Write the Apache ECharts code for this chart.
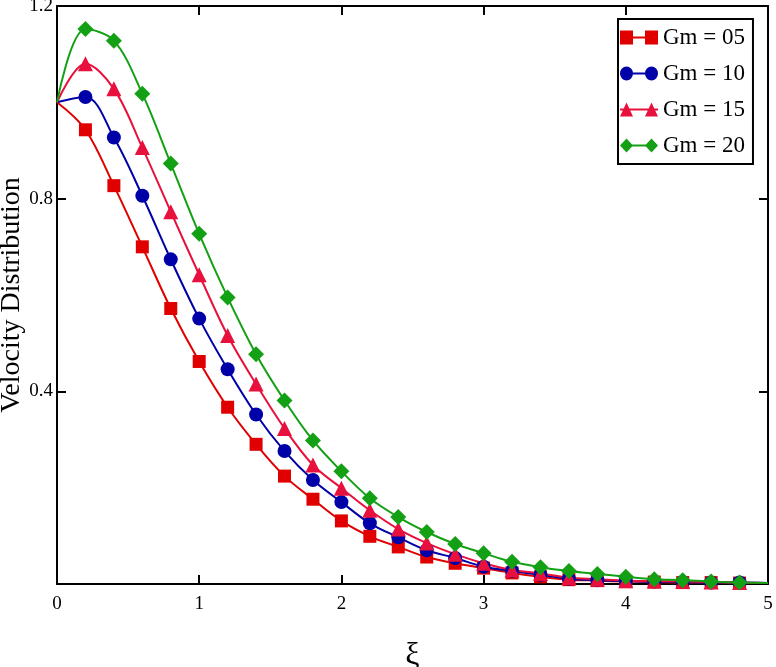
<!DOCTYPE html>
<html>
<head>
<meta charset="utf-8">
<script src="https://cdn.jsdelivr.net/npm/echarts@6/dist/echarts.min.js"></script>
<style>
  html, body { margin: 0; padding: 0; background: #fff; }
  #chart { width: 776px; height: 667px; }
</style>
</head>
<body>
<div id="chart"></div>
<script>
const xs = [0, 0.2, 0.4, 0.6, 0.8, 1.0, 1.2, 1.4, 1.6, 1.8, 2.0, 2.2, 2.4, 2.6, 2.8, 3.0,
  3.2, 3.4, 3.6, 3.8, 4.0, 4.2, 4.4, 4.6, 4.8, 5.0];
const gm05 = [1.0, 0.943, 0.827, 0.700, 0.572, 0.462, 0.367, 0.290, 0.224, 0.176, 0.131, 0.099, 0.077,
  0.056, 0.043, 0.033, 0.023, 0.015, 0.009, 0.007, 0.005, 0.004, 0.003, 0.003, 0.002, 0.002];
const gm10 = [1.0, 1.011, 0.927, 0.806, 0.674, 0.551, 0.446, 0.352, 0.276, 0.216, 0.170, 0.126, 0.097,
  0.070, 0.054, 0.036, 0.027, 0.019, 0.011, 0.008, 0.006, 0.005, 0.004, 0.003, 0.003, 0.002];
const gm15 = [1.0, 1.080, 1.028, 0.906, 0.773, 0.642, 0.516, 0.415, 0.323, 0.247, 0.199, 0.153, 0.114,
  0.085, 0.062, 0.043, 0.029, 0.022, 0.013, 0.010, 0.007, 0.006, 0.005, 0.004, 0.003, 0.002];
const gm20 = [1.0, 1.152, 1.128, 1.018, 0.873, 0.727, 0.595, 0.477, 0.381, 0.298, 0.234, 0.178, 0.139,
  0.108, 0.083, 0.064, 0.046, 0.035, 0.027, 0.021, 0.015, 0.010, 0.008, 0.005, 0.003, 0.002];
const names = ["Gm = 05", "Gm = 10", "Gm = 15", "Gm = 20"];

const FONT = "Liberation Serif";

// legend icons: two markers joined by a line, drawn in a 38x14 box
const icons = [
  "path://M0,0H13V14H0Z M13,6H25V8H13Z M25,0H38V14H25Z",
  "path://M0,7A6.5,7 0 1 1 13,7A6.5,7 0 1 1 0,7Z M12,6H26V8H12Z M25,7A6.5,7 0 1 1 38,7A6.5,7 0 1 1 25,7Z",
  "path://M0,14L6.5,0L13,14Z M0,6H38V8H0Z M25,14L31.5,0L38,14Z",
  "path://M0,7L6.5,0L13,7L6.5,14Z M12,6H26V8H12Z M25,7L31.5,0L38,7L31.5,14Z",
];

const makeSeries = (name, ys, color, symbol, size) => ({
  name,
  type: "line",
  smooth: 0.35,
  showAllSymbol: true,
  symbol,
  symbolSize: size,
  color,
  lineStyle: { color, width: 2 },
  itemStyle: { color },
  data: xs.map((x, i) =>
    i === 0 || i === xs.length - 1 ? { value: [x, ys[i]], symbol: "none" } : [x, ys[i]]
  ),
});

const chart = echarts.init(document.getElementById("chart"));

const axisCommon = {
  axisLine: { show: true, onZero: false, lineStyle: { color: "#000", width: 2 } },
  axisTick: { show: true, inside: true, length: 9, lineStyle: { color: "#000", width: 2 } },
  splitLine: { show: false },
};

chart.setOption({
  backgroundColor: "#fff",
  animation: false,
  grid: { left: 57, right: 8, top: 6, bottom: 83, containLabel: false, outerBoundsMode: "none" },
  legend: {
    orient: "vertical",
    left: 618,
    top: 19,
    padding: [7, 8, 7, 2],
    itemWidth: 38,
    itemHeight: 14,
    itemGap: 13,
    backgroundColor: "#fff",
    borderColor: "#000",
    borderWidth: 2,
    textStyle: { fontFamily: FONT, fontSize: 23, color: "#000", lineHeight: 22 },
    data: names.map((name, i) => ({ name, icon: icons[i] })),
  },
  xAxis: [
    {
      type: "value",
      min: 0,
      max: 5,
      interval: 1,
      name: "ξ",
      nameLocation: "middle",
      nameGap: 56,
      nameMoveOverlap: false,
      nameTextStyle: { fontFamily: FONT, fontSize: 32, color: "#000" },
      axisLabel: { fontFamily: FONT, fontSize: 19, color: "#000", margin: 11 },
      ...axisCommon,
    },
    {
      type: "value",
      position: "top",
      min: 0,
      max: 5,
      interval: 1,
      axisLabel: { show: false },
      ...axisCommon,
    },
  ],
  yAxis: [
    {
      type: "value",
      min: 0,
      max: 1.2,
      interval: 0.4,
      name: "Velocity Distribution",
      nameLocation: "middle",
      nameGap: 31,
      nameMoveOverlap: false,
      nameTextStyle: { fontFamily: FONT, fontSize: 28, color: "#000" },
      axisLabel: { fontFamily: FONT, fontSize: 19, color: "#000", margin: 4, showMinLabel: false },
      ...axisCommon,
    },
    {
      type: "value",
      position: "right",
      min: 0,
      max: 1.2,
      interval: 0.4,
      axisLabel: { show: false },
      ...axisCommon,
    },
  ],
  series: [
    makeSeries(names[0], gm05, "#e00000", "rect", 13),
    makeSeries(names[1], gm10, "#0000a8", "circle", 14),
    makeSeries(names[2], gm15, "#e8103c", "triangle", 15),
    makeSeries(names[3], gm20, "#14a014", "diamond", 16),
  ],
});
</script>
</body>
</html>
